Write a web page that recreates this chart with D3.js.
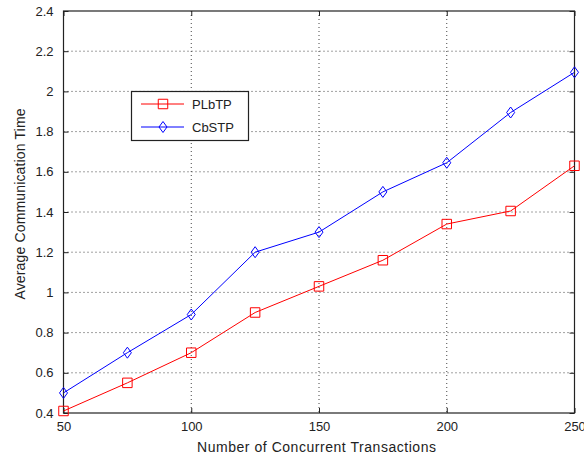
<!DOCTYPE html>
<html>
<head>
<meta charset="utf-8">
<style>
  body { margin: 0; background: #fff; }
  svg { display: block; font-family: Arial, "Liberation Sans", sans-serif; }
</style>
</head>
<body>
<script src="https://cdn.jsdelivr.net/npm/d3@7/dist/d3.min.js"></script>
<script>

// data
var transactions = [50, 75, 100, 125, 150, 175, 200, 225, 250];
var plbtp = [0.41, 0.55, 0.70, 0.90, 1.03, 1.16, 1.34, 1.405, 1.63];
var cbstp = [0.50, 0.70, 0.89, 1.20, 1.30, 1.50, 1.645, 1.895, 2.095];
var xTicks = [50, 100, 150, 200, 250];
var yTicks = [0.4, 0.6, 0.8, 1, 1.2, 1.4, 1.6, 1.8, 2, 2.2, 2.4];
var seriesNames = ["PLbTP", "CbSTP"];

var width = 584, height = 459;
var pLeft = 63.5, pRight = 574.5, pTop = 11, pBottom = 413;

var svg = d3.select("body").append("svg")
  .attr("width", width)
  .attr("height", height);

var x = d3.scaleLinear().domain([50, 250]).range([pLeft, pRight]);
var y = d3.scaleLinear().domain([0.4, 2.4]).range([pBottom, pTop]);

// grid
var grid = svg.append("g");
grid.selectAll(".gx")
  .data(xTicks.slice(1, -1))
  .enter().append("line")
  .attr("x1", d => x(d)).attr("x2", d => x(d))
  .attr("y1", pTop).attr("y2", pBottom)
  .attr("stroke", "#444").attr("stroke-width", 1)
  .attr("stroke-dasharray", "1,3");
grid.selectAll(".gy")
  .data(yTicks.slice(1, -1))
  .enter().append("line")
  .attr("y1", d => y(d)).attr("y2", d => y(d))
  .attr("x1", pLeft).attr("x2", pRight)
  .attr("stroke", "#444").attr("stroke-width", 1)
  .attr("stroke-dasharray", "1,3");

// axes (ticks inside, on all four sides like matlab)
svg.append("g")
  .attr("transform", "translate(0," + pBottom + ")")
  .call(d3.axisBottom(x).tickValues(xTicks).tickSizeInner(-5).tickSizeOuter(0).tickPadding(9).tickFormat(d3.format("d")))
  .call(g => g.select(".domain").remove());
svg.append("g")
  .attr("transform", "translate(0," + pTop + ")")
  .call(d3.axisTop(x).tickValues(xTicks).tickSizeInner(-5).tickSizeOuter(0).tickFormat(""))
  .call(g => g.select(".domain").remove());
svg.append("g")
  .attr("transform", "translate(" + pLeft + ",0)")
  .call(d3.axisLeft(y).tickValues(yTicks).tickSizeInner(-5).tickSizeOuter(0).tickPadding(10).tickFormat(d => String(+d.toFixed(1))))
  .call(g => g.select(".domain").remove());
svg.append("g")
  .attr("transform", "translate(" + pRight + ",0)")
  .call(d3.axisRight(y).tickValues(yTicks).tickSizeInner(-5).tickSizeOuter(0).tickFormat(""))
  .call(g => g.select(".domain").remove());

svg.selectAll(".tick line").attr("stroke", "#222");
svg.selectAll(".tick text")
  .attr("font-family", "Arial, 'Liberation Sans', sans-serif")
  .attr("font-size", 13)
  .attr("fill", "#222");

svg.append("rect")
  .attr("x", pLeft).attr("y", pTop)
  .attr("width", pRight - pLeft).attr("height", pBottom - pTop)
  .attr("fill", "none").attr("stroke", "#222").attr("stroke-width", 1.2);

// series
var line = d3.line()
  .x((d, i) => x(transactions[i]))
  .y(d => y(d));

svg.append("path").datum(plbtp)
  .attr("d", line).attr("fill", "none").attr("stroke", "#ff0000").attr("stroke-width", 1);
svg.append("path").datum(cbstp)
  .attr("d", line).attr("fill", "none").attr("stroke", "#0000ff").attr("stroke-width", 1);

var square = d3.symbol().type(d3.symbolSquare).size(90);
function diamond(cx, cy) {
  return "M" + cx + "," + (cy - 5.5) + "L" + (cx + 4) + "," + cy + "L" + cx + "," + (cy + 5.5) + "L" + (cx - 4) + "," + cy + "Z";
}

svg.selectAll(".sq").data(plbtp).enter().append("path")
  .attr("d", square)
  .attr("transform", (d, i) => "translate(" + x(transactions[i]) + "," + y(d) + ")")
  .attr("fill", "none").attr("stroke", "#ff0000").attr("stroke-width", 1);
svg.selectAll(".dm").data(cbstp).enter().append("path")
  .attr("d", (d, i) => diamond(x(transactions[i]), y(d)))
  .attr("fill", "none").attr("stroke", "#0000ff").attr("stroke-width", 1);

// legend
var lg = svg.append("g");
lg.append("rect")
  .attr("x", 131.5).attr("y", 91.5).attr("width", 117).attr("height", 49)
  .attr("fill", "#fff").attr("stroke", "#222").attr("stroke-width", 1.2);
var rows = [104, 127];
var colors = ["#ff0000", "#0000ff"];
seriesNames.forEach(function(name, i) {
  lg.append("line")
    .attr("x1", 141).attr("x2", 184).attr("y1", rows[i]).attr("y2", rows[i])
    .attr("stroke", colors[i]).attr("stroke-width", 1);
  if (i === 0) {
    lg.append("path").attr("d", square)
      .attr("transform", "translate(163," + rows[i] + ")")
      .attr("fill", "none").attr("stroke", colors[i]);
  } else {
    lg.append("path").attr("d", diamond(163, rows[i]))
      .attr("fill", "none").attr("stroke", colors[i]);
  }
  lg.append("text")
    .attr("x", 192).attr("y", rows[i] + 5)
    .attr("font-size", 13).attr("fill", "#222")
    .text(name);
});

// axis labels
svg.append("text")
  .attr("x", 316.5).attr("y", 452)
  .attr("text-anchor", "middle").attr("font-size", 14).attr("fill", "#222")
  .attr("textLength", 239).attr("lengthAdjust", "spacing")
  .text("Number of Concurrent Transactions");
svg.append("text")
  .attr("transform", "translate(25,204) rotate(-90)")
  .attr("text-anchor", "middle").attr("font-size", 14).attr("fill", "#222")
  .attr("textLength", 191).attr("lengthAdjust", "spacing")
  .text("Average Communication Time");

</script>
</body>
</html>
